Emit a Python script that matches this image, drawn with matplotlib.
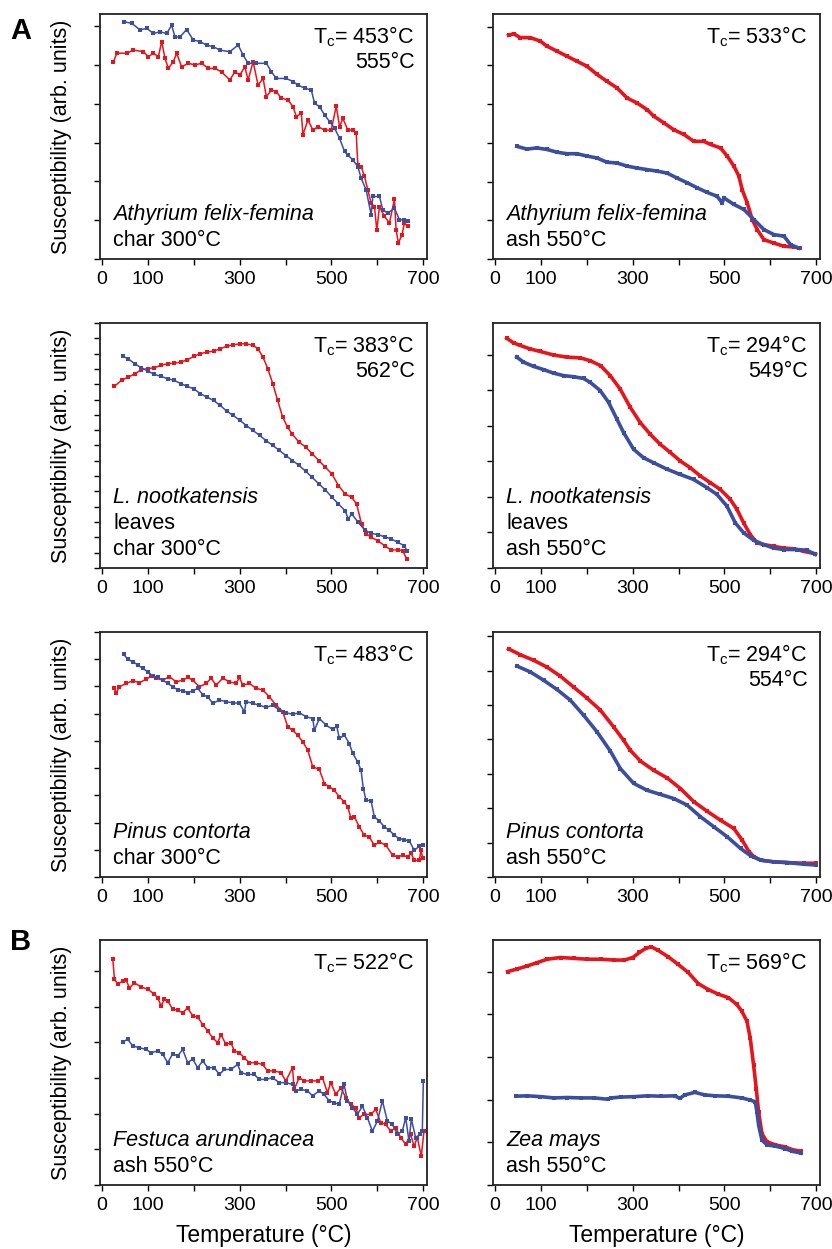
import matplotlib
matplotlib.use("Agg")
import matplotlib.pyplot as plt
from matplotlib.ticker import MultipleLocator, FixedLocator

plt.rcParams['font.family'] = ['Liberation Sans', 'DejaVu Sans']
plt.rcParams['mathtext.fontset'] = 'custom'
plt.rcParams['mathtext.rm'] = 'Liberation Sans'

RED = '#e8141c'
BLUE = '#3c4ea0'

# ---------------- data (temperature °C, susceptibility arb. units) -------------
# Panel A1: Athyrium felix-femina char 300°C
a1_blue_T = [48.5, 65.2, 83.2, 97.7, 112.2, 126.7, 141.2, 152.0, 159.3, 170.1, 184.6, 199.1, 213.6, 228.0,
             242.5, 257.0, 278.7, 296.8, 307.7, 318.5, 336.6, 358.3, 369.2, 380.0, 401.8, 416.2, 427.1,
             441.6, 456.1, 463.3, 474.2, 485.0, 495.9, 506.7, 517.6, 528.4, 535.7, 546.5, 557.4, 564.6,
             575.5, 586.4, 590.0, 604.5, 611.7, 622.6, 637.1, 647.9, 658.8, 666.0]
a1_blue_y = [6.11, 6.07, 5.90, 5.94, 5.81, 5.85, 5.81, 6.02, 5.72, 5.72, 5.91, 5.64, 5.60, 5.51,
             5.47, 5.38, 5.34, 5.51, 5.25, 5.04, 5.04, 5.04, 4.82, 4.65, 4.65, 4.57, 4.48,
             4.40, 4.35, 4.01, 3.92, 3.71, 3.54, 3.37, 3.11, 2.77, 2.68, 2.55, 2.38, 2.08,
             1.78, 1.14, 1.61, 1.61, 1.27, 1.18, 1.31, 1.01, 1.01, 0.97]
a1_red_T = [25.3, 32.6, 54.3, 68.8, 90.5, 101.3, 112.2, 123.1, 130.3, 137.5, 144.8, 155.6, 162.9, 173.7,
            188.2, 202.7, 217.2, 231.6, 246.1, 260.6, 278.7, 289.6, 300.4, 311.3, 318.5, 329.4, 340.2,
            351.1, 358.3, 369.2, 380.0, 390.9, 405.4, 416.2, 423.5, 434.3, 437.9, 448.8, 459.7, 470.5,
            485.0, 499.5, 510.4, 517.6, 524.8, 535.7, 546.5, 553.8, 557.4, 564.6, 571.9, 579.1, 586.4,
            593.6, 598.7, 604.5, 615.3, 626.2, 637.1, 640.7, 645.7, 653.7, 658.8, 666.0]
a1_red_y = [5.08, 5.30, 5.30, 5.38, 5.34, 5.21, 5.30, 5.21, 5.60, 5.17, 4.91, 5.08, 5.30, 4.95,
            5.04, 5.00, 5.04, 4.91, 4.91, 4.82, 4.61, 4.82, 4.74, 4.95, 4.61, 5.08, 4.48,
            4.65, 4.18, 4.35, 4.31, 4.14, 4.10, 3.92, 3.67, 3.75, 3.20, 3.58, 3.32, 3.41,
            3.32, 3.32, 3.94, 3.41, 3.62, 3.32, 3.32, 3.24, 2.42, 2.38, 2.13, 1.78, 1.44,
            1.35, 0.74, 1.35, 1.10, 0.93, 1.54, 0.75, 0.41, 0.63, 0.93, 0.84]

# Panel A2: Athyrium felix-femina ash 550°C
a2_red_T = [29.8, 40.7, 55.2, 77.1, 98.9, 113.4, 135.2, 157.0, 178.8, 200.6, 222.4, 244.2, 266.1, 287.9,
            309.7, 331.5, 346.0, 367.8, 389.6, 411.4, 433.2, 455.0, 469.6, 491.4, 505.9, 520.5, 531.4,
            538.6, 549.5, 560.4, 571.3, 585.9, 607.7, 629.5, 651.3, 664.4]
a2_red_y = [5.78, 5.82, 5.72, 5.72, 5.63, 5.50, 5.37, 5.24, 5.11, 4.98, 4.77, 4.59, 4.42, 4.16,
            4.03, 3.86, 3.69, 3.52, 3.34, 3.22, 3.04, 3.04, 2.96, 2.87, 2.66, 2.40, 2.14,
            1.79, 1.45, 1.02, 0.76, 0.50, 0.41, 0.33, 0.31, 0.28]
a2_blue_T = [48.0, 69.8, 91.6, 113.4, 135.2, 157.0, 178.8, 200.6, 222.4, 244.2, 266.1, 287.9, 309.7,
             331.5, 353.3, 375.1, 396.9, 418.7, 440.5, 462.3, 484.1, 495.0, 498.7, 520.5, 542.3, 564.1,
             585.9, 607.7, 629.5, 644.0, 662.2]
a2_blue_y = [2.91, 2.84, 2.87, 2.83, 2.76, 2.72, 2.72, 2.66, 2.61, 2.50, 2.48, 2.40, 2.35,
             2.31, 2.27, 2.22, 2.09, 1.97, 1.84, 1.72, 1.62, 1.45, 1.58, 1.41, 1.28, 1.02,
             0.76, 0.63, 0.59, 0.37, 0.28]

# Panel A3: L. nootkatensis leaves char 300°C
a3_red_T = [27.2, 42.9, 57.3, 71.6, 85.9, 100.2, 114.5, 128.8, 143.1, 157.5, 171.8, 186.1, 200.4, 214.7,
            229.0, 243.3, 257.7, 272.0, 286.3, 300.6, 314.9, 329.2, 340.0, 350.7, 361.4, 372.2, 382.9,
            393.6, 404.4, 415.1, 429.4, 443.7, 458.0, 472.3, 486.7, 501.0, 515.3, 529.6, 543.9, 554.7,
            565.4, 576.1, 586.8, 601.2, 615.5, 629.8, 644.1, 654.9, 664.2]
a3_red_y = [5.93, 6.13, 6.23, 6.34, 6.47, 6.51, 6.54, 6.62, 6.67, 6.69, 6.72, 6.80, 6.91, 7.00,
            7.05, 7.08, 7.16, 7.24, 7.29, 7.32, 7.32, 7.27, 7.16, 6.89, 6.51, 6.02, 5.47,
            4.93, 4.60, 4.36, 4.11, 3.95, 3.73, 3.51, 3.29, 3.07, 2.69, 2.42, 2.31, 2.09,
            1.44, 1.11, 1.00, 0.89, 0.73, 0.59, 0.59, 0.57, 0.29]
a3_blue_T = [46.5, 57.3, 71.6, 85.9, 100.2, 114.5, 128.8, 143.1, 157.5, 171.8, 186.1, 200.4, 214.7,
             229.0, 243.3, 257.7, 272.0, 286.3, 300.6, 314.9, 329.2, 343.5, 357.8, 372.2, 386.5, 400.8,
             415.1, 429.4, 443.7, 458.0, 472.3, 486.7, 501.0, 515.3, 529.6, 536.8, 543.9, 558.2, 572.5,
             586.8, 601.2, 615.5, 629.8, 644.1, 658.4, 664.2]
a3_blue_y = [6.91, 6.83, 6.67, 6.54, 6.43, 6.32, 6.26, 6.18, 6.13, 6.02, 5.93, 5.85, 5.69,
             5.58, 5.47, 5.31, 5.12, 4.98, 4.82, 4.65, 4.49, 4.33, 4.16, 4.00, 3.84, 3.67,
             3.51, 3.35, 3.16, 2.96, 2.75, 2.55, 2.31, 2.09, 1.87, 1.60, 1.77, 1.49, 1.24,
             1.13, 1.09, 1.02, 0.95, 0.84, 0.73, 0.57]

# Panel A4: L. nootkatensis leaves ash 550°C
a4_red_T = [26.1, 40.7, 55.2, 77.0, 98.8, 127.8, 156.8, 185.9, 207.7, 230.3, 251.2, 273.0, 294.8, 316.6,
            338.4, 360.1, 381.9, 403.7, 425.5, 447.3, 469.1, 490.9, 512.6, 527.1, 541.7, 556.2, 570.7,
            585.2, 607.0, 628.8, 650.6, 672.4, 697.8]
a4_red_y = [6.46, 6.33, 6.26, 6.16, 6.09, 5.99, 5.93, 5.91, 5.83, 5.69, 5.41, 5.03, 4.52, 4.09,
            3.76, 3.48, 3.25, 3.01, 2.82, 2.59, 2.40, 2.21, 1.93, 1.65, 1.27, 0.94, 0.71,
            0.66, 0.61, 0.56, 0.54, 0.47, 0.40]
a4_blue_T = [47.9, 62.4, 84.2, 106.0, 127.8, 149.6, 171.4, 193.1, 207.7, 229.4, 247.6, 265.7, 280.3,
             302.1, 323.8, 345.6, 374.7, 403.7, 432.8, 461.8, 483.6, 505.4, 523.5, 541.7, 563.5, 585.2,
             607.0, 628.8, 657.9, 679.6, 697.8]
a4_blue_y = [5.93, 5.79, 5.67, 5.58, 5.48, 5.41, 5.38, 5.33, 5.22, 4.99, 4.66, 4.19, 3.81,
             3.34, 3.10, 2.96, 2.78, 2.63, 2.49, 2.26, 2.07, 1.74, 1.27, 0.99, 0.78, 0.66,
             0.56, 0.52, 0.52, 0.50, 0.38]

# Panel A5: Pinus contorta char 300°C
a5_blue_T = [47.2, 56.6, 67.5, 78.3, 89.2, 100.1, 111.0, 121.9, 132.8, 143.6, 154.5, 165.4, 176.3, 187.2,
             198.0, 208.9, 219.8, 230.7, 241.6, 256.1, 270.6, 285.1, 299.6, 310.5, 314.1, 328.6, 343.1,
             357.6, 372.1, 386.6, 401.1, 415.6, 430.2, 444.7, 459.2, 462.8, 473.7, 488.2, 502.7, 511.4,
             517.2, 528.1, 539.0, 546.2, 557.1, 564.4, 569.4, 575.2, 586.1, 593.4, 604.3, 615.1, 626.0,
             636.9, 647.8, 658.6, 669.5, 680.4, 691.3, 698.5]
a5_blue_y = [8.19, 7.99, 7.91, 7.79, 7.66, 7.54, 7.38, 7.33, 7.23, 7.11, 6.99, 6.87, 6.84, 6.77,
             6.84, 6.93, 6.69, 6.62, 6.38, 6.50, 6.44, 6.40, 6.38, 6.07, 6.44, 6.38, 6.31,
             6.23, 6.31, 6.13, 6.03, 5.98, 6.03, 5.89, 5.82, 5.39, 5.82, 5.58, 5.42, 5.54,
             5.09, 5.21, 4.90, 4.54, 4.23, 3.92, 3.25, 2.82, 2.80, 2.21, 2.06, 1.84, 1.72,
             1.53, 1.41, 1.37, 1.32, 0.98, 1.13, 1.16]
a5_red_T = [26.1, 31.2, 38.4, 53.0, 67.5, 82.0, 96.5, 107.4, 118.2, 132.8, 147.3, 161.8, 176.3, 187.2,
            198.0, 212.5, 227.1, 237.9, 248.8, 263.3, 277.8, 292.3, 299.6, 306.8, 321.4, 335.9, 350.4,
            364.9, 379.4, 393.9, 404.8, 415.6, 426.5, 437.4, 448.3, 459.2, 473.7, 484.6, 495.5, 506.3,
            517.2, 528.1, 535.4, 542.6, 549.9, 560.7, 571.6, 582.5, 593.4, 604.3, 618.8, 633.3, 644.2,
            655.1, 666.0, 673.2, 680.4, 691.3, 694.9, 698.5]
a5_red_y = [6.96, 6.77, 6.99, 7.11, 7.21, 7.14, 7.26, 7.38, 7.30, 7.23, 7.36, 7.17, 7.23, 7.33,
            7.23, 6.99, 7.11, 7.30, 7.05, 7.30, 7.17, 7.11, 7.33, 7.05, 7.11, 6.93, 6.87,
            6.62, 6.31, 6.07, 5.52, 5.39, 5.21, 4.97, 4.66, 4.05, 3.95, 3.43, 3.31, 3.19,
            2.94, 2.76, 2.57, 2.15, 2.21, 1.84, 1.53, 1.47, 1.16, 1.29, 1.16, 0.80, 0.74,
            0.80, 0.74, 0.88, 0.61, 0.61, 0.98, 0.71]

# Panel A6: Pinus contorta ash 550°C
a6_red_T = [29.8, 55.2, 84.3, 113.4, 142.4, 171.5, 200.6, 229.7, 258.8, 280.6, 295.1, 316.9, 346.0, 375.1,
            404.2, 433.2, 462.3, 491.4, 520.5, 538.6, 553.2, 564.1, 578.6, 607.7, 636.8, 673.1, 698.5]
a6_red_y = [6.63, 6.46, 6.30, 6.10, 5.84, 5.52, 5.20, 4.85, 4.36, 3.97, 3.68, 3.37, 3.10, 2.88,
            2.57, 2.19, 1.91, 1.65, 1.41, 1.07, 0.74, 0.59, 0.49, 0.44, 0.42, 0.40, 0.40]
a6_blue_T = [48.0, 77.1, 106.1, 135.2, 164.3, 193.4, 222.4, 251.5, 273.3, 302.4, 331.5, 360.5, 389.6,
             418.7, 447.8, 476.8, 505.9, 535.0, 556.8, 578.6, 607.7, 636.8, 673.1, 698.5]
a6_blue_y = [6.13, 5.96, 5.72, 5.45, 5.14, 4.70, 4.22, 3.66, 3.15, 2.72, 2.52, 2.40, 2.28,
             2.09, 1.75, 1.46, 1.17, 0.83, 0.62, 0.49, 0.44, 0.42, 0.37, 0.35]

# Panel B1: Festuca arundinacea ash 550°C
b1_red_T = [23.9, 27.5, 34.8, 45.6, 52.9, 60.1, 71.0, 85.5, 100.0, 114.5, 121.7, 129.0, 136.2, 143.5,
            154.3, 165.2, 176.1, 186.9, 197.8, 208.7, 219.6, 230.4, 241.3, 252.2, 259.4, 270.3, 281.1,
            288.4, 299.3, 310.1, 321.0, 335.5, 350.0, 360.8, 375.3, 389.8, 400.7, 415.2, 418.8, 429.7,
            440.6, 455.1, 469.6, 480.4, 491.3, 498.5, 509.4, 520.3, 531.1, 542.0, 552.9, 560.1, 571.0,
            585.5, 596.4, 607.2, 618.1, 629.0, 639.8, 650.7, 661.6, 672.4, 679.7, 686.9, 695.6, 701.4]
b1_red_y = [6.33, 5.77, 5.63, 5.72, 5.74, 5.53, 5.67, 5.55, 5.49, 5.35, 5.25, 5.02, 5.21, 5.16,
            4.93, 4.90, 4.83, 4.97, 4.74, 4.71, 4.50, 4.32, 4.13, 3.99, 4.22, 3.94, 3.99,
            3.76, 3.71, 3.57, 3.43, 3.43, 3.38, 3.20, 3.20, 3.15, 2.92, 3.29, 2.68, 3.01,
            2.92, 2.92, 2.92, 3.01, 2.59, 2.87, 2.54, 2.73, 2.45, 2.26, 2.17, 1.89, 1.98,
            1.98, 2.12, 1.75, 1.70, 1.51, 1.61, 1.33, 1.14, 1.42, 1.09, 1.33, 0.81, 1.51]
b1_blue_T = [45.6, 56.5, 67.4, 81.9, 96.4, 107.2, 121.7, 132.6, 143.5, 154.3, 165.2, 176.1, 186.9, 197.8,
             208.7, 219.6, 230.4, 244.9, 255.8, 266.7, 281.1, 295.6, 302.9, 317.4, 331.9, 342.7, 357.2,
             371.7, 386.2, 400.7, 415.2, 422.4, 433.3, 447.8, 458.7, 473.2, 484.0, 494.9, 505.8, 516.6,
             527.5, 534.8, 545.6, 556.5, 567.4, 578.2, 589.1, 600.0, 610.9, 621.7, 632.6, 643.5, 654.3,
             661.6, 668.8, 673.9, 683.3, 692.7, 697.8, 700.0]
b1_blue_y = [4.02, 4.08, 3.90, 3.85, 3.80, 3.71, 3.76, 3.66, 3.43, 3.68, 3.62, 3.80, 3.43, 3.53,
             3.29, 3.48, 3.29, 3.29, 3.10, 3.24, 3.24, 3.38, 3.15, 3.10, 3.10, 2.96, 2.96,
             3.01, 2.87, 2.87, 2.82, 2.64, 2.68, 2.64, 2.50, 2.64, 2.54, 2.36, 2.31, 2.26,
             2.82, 2.36, 2.17, 1.98, 2.21, 1.89, 1.51, 1.79, 2.36, 1.79, 1.70, 1.42, 1.51,
             1.89, 1.23, 1.85, 1.33, 1.42, 1.51, 2.92]

# Panel B2: Zea mays ash 550°C
b2_red_T = [27.8, 48.2, 70.1, 92.1, 114.0, 143.2, 172.4, 201.7, 230.9, 260.1, 282.1, 300.3, 314.9, 329.5,
            340.5, 355.1, 377.0, 399.0, 420.9, 442.8, 464.7, 486.7, 508.6, 526.8, 537.8, 548.8, 556.1,
            563.4, 569.2, 574.3, 581.6, 592.6, 610.9, 632.8, 647.4, 665.7]
b2_red_y = [5.00, 5.06, 5.13, 5.21, 5.29, 5.33, 5.31, 5.29, 5.29, 5.27, 5.27, 5.33, 5.45, 5.55,
            5.58, 5.50, 5.35, 5.17, 4.98, 4.72, 4.58, 4.47, 4.39, 4.23, 4.07, 3.84, 3.44,
            2.81, 2.26, 1.71, 1.20, 1.01, 0.94, 0.89, 0.83, 0.79]
b2_blue_T = [46.8, 70.1, 99.4, 128.6, 157.8, 187.1, 216.3, 245.5, 252.8, 274.7, 304.0, 333.2, 362.4,
             391.7, 402.6, 413.6, 435.5, 457.4, 479.3, 508.6, 537.8, 556.1, 567.0, 570.7, 574.3, 581.6,
             592.6, 610.9, 632.8, 647.4, 665.7]
b2_blue_y = [2.08, 2.09, 2.07, 2.04, 2.05, 2.04, 2.04, 2.01, 2.04, 2.06, 2.07, 2.09, 2.08,
             2.09, 2.03, 2.11, 2.17, 2.11, 2.09, 2.08, 2.04, 1.99, 1.95, 1.71, 1.40, 1.05,
             0.94, 0.91, 0.85, 0.79, 0.75]

x_tick_values = [0, 100, 200, 300, 400, 500, 600, 700]
x_tick_labels = ['0', '100', '', '300', '', '500', '', '700']

tc_first = ['453°C', '533°C', '383°C', '294°C', '483°C', '294°C', '522°C', '569°C']
tc_second = ['555°C', '', '562°C', '549°C', '', '554°C', '', '']
species = ['Athyrium felix-femina', 'Athyrium felix-femina', 'L. nootkatensis', 'L. nootkatensis',
           'Pinus contorta', 'Pinus contorta', 'Festuca arundinacea', 'Zea mays']
treatments = ['char 300°C', 'ash 550°C', 'leaves\nchar 300°C', 'leaves\nash 550°C',
              'char 300°C', 'ash 550°C', 'ash 550°C', 'ash 550°C']

# ---------------- layout ----------------
W, H = 832, 1249
fig = plt.figure(figsize=(W / 100, H / 100), dpi=100)

col_x = [100, 493]
row_top = [14, 323, 632, 940]
ax_w, ax_h = 327, 245

ylims = [6.31, 6.33, 8.0, 6.89, 9.0, 7.12, 6.87, 5.74]
ymaj = [6, 6, 8, 6, 9, 7, 6, 5]
yminor = [False, False, True, False, False, False, False, False]
dense = [False, True, False, True, False, True, False, True]

series = [
    (a1_blue_T, a1_blue_y, a1_red_T, a1_red_y),
    (a2_blue_T, a2_blue_y, a2_red_T, a2_red_y),
    (a3_blue_T, a3_blue_y, a3_red_T, a3_red_y),
    (a4_blue_T, a4_blue_y, a4_red_T, a4_red_y),
    (a5_blue_T, a5_blue_y, a5_red_T, a5_red_y),
    (a6_blue_T, a6_blue_y, a6_red_T, a6_red_y),
    (b1_blue_T, b1_blue_y, b1_red_T, b1_red_y),
    (b2_blue_T, b2_blue_y, b2_red_T, b2_red_y),
]

FS = 15.5

for i in range(8):
    r, c = divmod(i, 2)
    left = col_x[c] / W
    bottom = 1 - (row_top[r] + ax_h) / H
    ax = fig.add_axes([left, bottom, ax_w / W, ax_h / H])
    bT, by, rT, ry = series[i]
    if dense[i]:
        lw, ms = 2.6, 2.2
    else:
        lw, ms = 1.1, 2.8
    ax.plot(rT, ry, color=RED, lw=lw, marker='s', ms=ms, mew=0, zorder=2)
    ax.plot(bT, by, color=BLUE, lw=lw, marker='s', ms=ms, mew=0, zorder=3)
    ax.set_xlim(-4, 708)
    ax.set_ylim(0, ylims[i])
    ax.xaxis.set_major_locator(FixedLocator(x_tick_values))
    ax.set_xticklabels(x_tick_labels)
    ax.yaxis.set_major_locator(FixedLocator(list(range(ymaj[i] + 1))))
    if yminor[i]:
        ax.yaxis.set_minor_locator(MultipleLocator(0.5))
        ax.tick_params(axis='y', which='minor', length=4, width=1.0, direction='out')
    ax.set_yticklabels([])
    ax.tick_params(axis='both', which='major', length=4, width=1.0, direction='out', pad=5)
    for lab in ax.get_xticklabels():
        lab.set_fontsize(14)
    for sp in ax.spines.values():
        sp.set_linewidth(1.3)
        sp.set_color('#222222')
    # Tc annotation (two separate lines)
    ax.text(0.962, 0.882, 'T$_{\\mathregular{c}}$= ' + tc_first[i], transform=ax.transAxes,
            ha='right', va='baseline', fontsize=FS)
    if tc_second[i]:
        ax.text(0.962, 0.780, tc_second[i], transform=ax.transAxes, ha='right', va='baseline',
                fontsize=FS)
    # species + treatment
    tl = treatments[i].split('\n')
    base = 0.055
    step = 0.105
    for k, line in enumerate(reversed(tl)):
        ax.text(0.04, base + k * step, line, transform=ax.transAxes, ha='left', va='baseline',
                fontsize=FS)
    ax.text(0.04, base + len(tl) * step, species[i], transform=ax.transAxes, ha='left',
            va='baseline', fontsize=FS, style='italic')
    if c == 0:
        yc = 1 - (row_top[r] + ax_h / 2) / H
        fig.text(62 / W, yc, 'Susceptibility (arb. units)', rotation=90, ha='center', va='center',
                 fontsize=FS)
    if r == 3:
        fig.text((col_x[c] + ax_w / 2) / W, 1 - 1242 / H, 'Temperature (°C)', ha='center',
                 va='baseline', fontsize=16.5)

fig.text(21 / W, 1 - 31 / H, 'A', ha='center', va='center', fontsize=21, fontweight='bold')
fig.text(21 / W, 1 - 942 / H, 'B', ha='center', va='center', fontsize=21, fontweight='bold')

fig.savefig('out.png', dpi=100)
